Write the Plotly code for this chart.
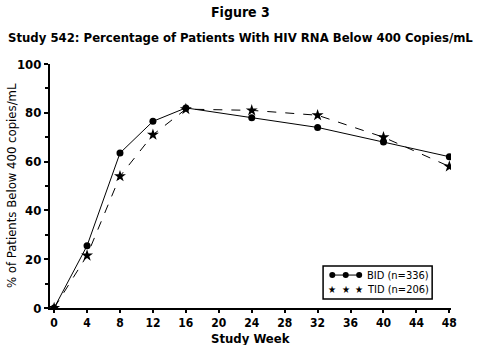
import plotly.graph_objects as go

weeks = [0, 4, 8, 12, 16, 24, 32, 40, 48]
bid = [0, 25.5, 63.5, 76.5, 82, 78, 74, 68, 62]
tid = [0, 21.5, 54, 71, 81.5, 81, 79, 70, 58]
x_ticks = list(range(0, 49, 4))
y_ticks = [0, 20, 40, 60, 80, 100]
legend_labels = ["BID (n=336)", "TID (n=206)"]
title_lines = ["Figure 3", "Study 542: Percentage of Patients With HIV RNA Below 400 Copies/mL"]
x_title = "Study Week"
y_title = "% of Patients Below 400 copies/mL"

FONT = "DejaVu Sans Condensed"

fig = go.Figure()
fig.add_trace(go.Scatter(
    x=weeks, y=bid, mode="lines+markers", name=legend_labels[0],
    line=dict(color="black", width=1, dash="solid"),
    marker=dict(symbol="circle", size=7, color="black"),
))
fig.add_trace(go.Scatter(
    x=weeks, y=tid, mode="lines+markers", name=legend_labels[1],
    line=dict(color="black", width=1, dash="dash"),
    marker=dict(symbol="star", size=9, color="black"),
))

# title lines
fig.add_annotation(xref="paper", yref="paper", x=0.476, y=1.215, xanchor="center", yanchor="middle",
                   text=f"<b>{title_lines[0]}</b>", showarrow=False,
                   font=dict(family=FONT, size=14, color="black"))
fig.add_annotation(xref="paper", yref="paper", x=0.476, y=1.108, xanchor="center", yanchor="middle",
                   text=f"<b>{title_lines[1]}</b>", showarrow=False,
                   font=dict(family=FONT, size=13, color="black"))
# axis titles
fig.add_annotation(xref="paper", yref="paper", x=0.5, y=-0.126, xanchor="center", yanchor="middle",
                   text=f"<b>{x_title}</b>", showarrow=False,
                   font=dict(family=FONT, size=13, color="black"))
fig.add_annotation(xref="paper", yref="paper", x=-0.097, y=0.5, xanchor="center", yanchor="middle",
                   text=y_title, textangle=-90, showarrow=False,
                   font=dict(family=FONT, size=13, color="black"))

# custom legend box (mimics three-marker samples)
fig.add_shape(type="rect", xref="paper", yref="paper",
              x0=0.681, x1=0.953, y0=0.037, y1=0.172,
              line=dict(color="black", width=1.5), fillcolor="white", layer="above")
fig.add_shape(type="line", xref="paper", yref="paper",
              x0=0.704, x1=0.771, y0=0.135, y1=0.135,
              line=dict(color="black", width=1), layer="above")
for xp in [0.704, 0.7375, 0.771]:
    fig.add_shape(type="circle", xref="paper", yref="paper",
                  x0=xp - 0.0075, x1=xp + 0.0075, y0=0.135 - 0.0123, y1=0.135 + 0.0123,
                  line=dict(color="black", width=0), fillcolor="black", layer="above")
    fig.add_annotation(xref="paper", yref="paper", x=xp, y=0.076, xanchor="center", yanchor="middle",
                       text="★", showarrow=False, font=dict(family=FONT, size=10, color="black"))
fig.add_annotation(xref="paper", yref="paper", x=0.785, y=0.135, xanchor="left", yanchor="middle",
                   text=legend_labels[0], showarrow=False, font=dict(family=FONT, size=11, color="black"))
fig.add_annotation(xref="paper", yref="paper", x=0.785, y=0.076, xanchor="left", yanchor="middle",
                   text=legend_labels[1], showarrow=False, font=dict(family=FONT, size=11, color="black"))

fig.update_layout(
    width=480, height=345,
    margin=dict(l=50, r=29, t=64, b=37),
    paper_bgcolor="white", plot_bgcolor="white",
    font=dict(family=FONT, color="black", size=13),
    showlegend=False,
    xaxis=dict(
        range=[-0.5, 48.2], tickvals=x_ticks,
        ticktext=[f"<b>{t}</b>" for t in x_ticks],
        showline=True, linecolor="black", linewidth=2,
        ticks="outside", ticklen=3, tickwidth=1.5, tickcolor="black",
        showgrid=False, zeroline=False, automargin=False,
        tickfont=dict(family=FONT, size=12),
    ),
    yaxis=dict(
        range=[0, 100], tickvals=y_ticks,
        ticktext=[f"<b>{t}</b>" for t in y_ticks],
        showline=True, linecolor="black", linewidth=2,
        ticks="outside", ticklen=4, tickwidth=1.5, tickcolor="black",
        minor=dict(tickvals=[10, 30, 50, 70, 90], ticks="outside", ticklen=3, tickwidth=1.5, tickcolor="black"),
        showgrid=False, zeroline=False, automargin=False,
        tickfont=dict(family=FONT, size=13),
    ),
)

fig.write_html("out.html")
